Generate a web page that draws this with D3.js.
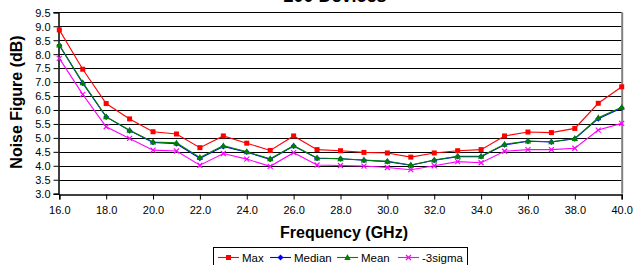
<!DOCTYPE html>
<html><head><meta charset="utf-8">
<script src="https://cdn.jsdelivr.net/npm/d3@7"></script>
<style>body{margin:0;background:#fff}svg{display:block;font-family:Arial,"Liberation Sans",sans-serif}</style>
</head><body><svg id="c" width="634" height="265"></svg>
<script>
const freqs = [16,17,18,19,20,21,22,23,24,25,26,27,28,29,30,31,32,33,34,35,36,37,38,39,40];
const maxVals    = [8.87,7.46,6.23,5.68,5.22,5.14,4.65,5.07,4.81,4.55,5.07,4.58,4.54,4.48,4.46,4.31,4.46,4.54,4.58,5.07,5.21,5.19,5.34,6.24,6.83];
const medianVals = [8.32,6.96,5.75,5.26,4.84,4.79,4.27,4.69,4.49,4.23,4.71,4.27,4.25,4.20,4.15,4.02,4.20,4.33,4.33,4.75,4.88,4.85,4.97,5.69,6.07];
const meanVals   = [8.33,6.98,5.76,5.27,4.85,4.82,4.30,4.72,4.50,4.25,4.72,4.28,4.25,4.21,4.16,4.03,4.21,4.34,4.34,4.77,4.89,4.86,4.98,5.72,6.10];
const sigmaVals  = [7.85,6.56,5.40,4.98,4.56,4.53,4.02,4.44,4.24,3.98,4.47,4.03,4.01,3.99,3.94,3.86,4.00,4.15,4.11,4.52,4.58,4.58,4.63,5.28,5.52];
const seriesNames = ["Max","Median","Mean","-3sigma"];
const seriesColors = ["#ff0000","#0000ff","#008000","#ff00ff"];
const seriesMarkers = ["square","diamond","triangle","cross"];
const yTicks = [3.0,3.5,4.0,4.5,5.0,5.5,6.0,6.5,7.0,7.5,8.0,8.5,9.0,9.5];
const xTicks = [16,18,20,22,24,26,28,30,32,34,36,38,40];
const titleLines = ["Noise Figure vs Frequency","200 Devices"];

const svg = d3.select("#c");
const L=59.3, R=621.7, T=12.3, B=193.7;
const x = d3.scaleLinear().domain([16,40]).range([L,R]);
const y = d3.scaleLinear().domain([3,9.5]).range([B,T]);

// title (only the bottom edge of its last line falls inside the picture, as in the reference)
titleLines.forEach((t,i)=>{
  svg.append("text").attr("x",335).attr("y",1.6 - (titleLines.length-1-i)*21).attr("text-anchor","middle")
    .attr("font-size",18).attr("font-weight","bold").text(t);
});

// gridlines
svg.append("g").selectAll("line").data(yTicks.filter(v=>v>3)).join("line")
  .attr("x1",L).attr("x2",R).attr("y1",d=>Math.round(y(d))+0.5).attr("y2",d=>Math.round(y(d))+0.5)
  .attr("stroke","#000").attr("stroke-width",1);
// right frame
svg.append("line").attr("x1",R+0.5).attr("x2",R+0.5).attr("y1",T).attr("y2",B)
  .attr("stroke","#808080").attr("stroke-width",2);

// axes
const xAxis = d3.axisBottom(x).tickValues(xTicks).tickFormat(d3.format(".1f")).tickSize(5).tickPadding(7);
const gx = svg.append("g").attr("transform",`translate(0,${Math.round(B)+0.5})`).call(xAxis);
const yAxis = d3.axisLeft(y).tickValues(yTicks).tickFormat(d3.format(".1f")).tickSize(5).tickPadding(3);
const gy = svg.append("g").attr("transform",`translate(${Math.round(L)-0.5},0)`).call(yAxis);
[gx,gy].forEach(g=>{
  g.select(".domain").attr("stroke","#000").attr("stroke-width",1.5);
  g.selectAll(".tick line").attr("stroke","#000");
  g.selectAll("text").attr("font-size",11).attr("fill","#000").attr("font-family","Arial, 'Liberation Sans', sans-serif");
});
gy.selectAll(".tick text").attr("dy","0.35em");

// axis titles
svg.append("text").attr("x",344).attr("y",238).attr("text-anchor","middle")
  .attr("font-size",16).attr("font-weight","bold").text("Frequency (GHz)");
svg.append("text").attr("transform","translate(22,102) rotate(-90)").attr("text-anchor","middle")
  .attr("font-size",16).attr("font-weight","bold").text("Noise Figure (dB)");

const allSeries=[maxVals,medianVals,meanVals,sigmaVals];
const line = d3.line().x((d,i)=>x(freqs[i])).y(d=>y(d));

function marker(g,type,color,cx,cy){
  if(type==="square") g.append("rect").attr("x",cx-2.5).attr("y",cy-2.5).attr("width",5).attr("height",5).attr("fill",color);
  else if(type==="diamond") g.append("path").attr("d",`M${cx},${cy-3}L${cx+3},${cy}L${cx},${cy+3}L${cx-3},${cy}Z`).attr("fill",color);
  else if(type==="triangle") g.append("path").attr("d",`M${cx},${cy-3.5}L${cx+3.2},${cy+2.5}L${cx-3.2},${cy+2.5}Z`).attr("fill",color);
  else g.append("path").attr("d",`M${cx-2.5},${cy-2.5}L${cx+2.5},${cy+2.5}M${cx-2.5},${cy+2.5}L${cx+2.5},${cy-2.5}`).attr("stroke",color).attr("stroke-width",1.2);
}

const order=[3,0,1,2];
order.forEach(si=>{
  const g=svg.append("g");
  g.append("path").datum(allSeries[si]).attr("d",line).attr("fill","none")
    .attr("stroke",seriesColors[si]).attr("stroke-width",1.1);
  allSeries[si].forEach((v,i)=>marker(g,seriesMarkers[si],seriesColors[si],x(freqs[i]),y(v)));
});

// legend
const lg=svg.append("g");
lg.append("rect").attr("x",213.5).attr("y",247.5).attr("width",254).attr("height",24)
  .attr("fill","#fff").attr("stroke","#000").attr("stroke-width",1);
const lx=[218,270,337,398];
seriesNames.forEach((n,i)=>{
  const ly=257.5;
  lg.append("line").attr("x1",lx[i]).attr("x2",lx[i]+21).attr("y1",ly).attr("y2",ly)
    .attr("stroke",seriesColors[i]).attr("stroke-width",1.1);
  marker(lg,seriesMarkers[i],seriesColors[i],lx[i]+10.5,ly);
  lg.append("text").attr("x",lx[i]+24).attr("y",ly).attr("dy","0.35em")
    .attr("font-size",11.5).text(n);
});
</script></body></html>
